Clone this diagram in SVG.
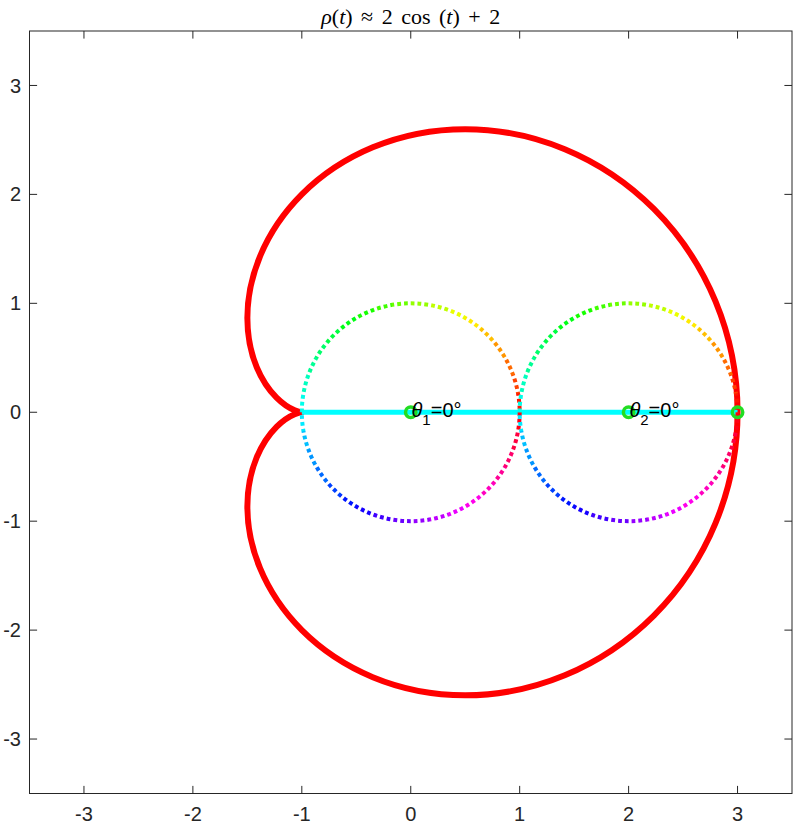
<svg xmlns="http://www.w3.org/2000/svg" xmlns:xlink="http://www.w3.org/1999/xlink" width="796" height="824" viewBox="0 0 796 824">
<style>
.tick{stroke:#262626;stroke-width:1;fill:none}
.tl{font-family:"Liberation Sans",Arial,sans-serif;font-size:20px;fill:#262626}
.tx{text-anchor:middle}
.ty{text-anchor:end}
.lbl{font-family:"Liberation Sans",Arial,sans-serif;font-size:20px;fill:#000}
.title{font-family:"Liberation Serif","Times New Roman",serif;font-size:22px;fill:#000;text-anchor:middle;word-spacing:3px}
.mk{fill:none;stroke:#22dd22;stroke-width:3.5}
</style>
<defs>
<circle id="ring" cx="410.75" cy="412.25" r="108.93" pathLength="360" fill="none" stroke-width="8" stroke-dasharray="10.6 349.4"/>
<mask id="dots" maskUnits="userSpaceOnUse" x="0" y="0" width="796" height="824">
<circle cx="410.75" cy="412.25" r="108.93" pathLength="360" fill="none" stroke="#fff" stroke-width="4" stroke-dasharray="2 1.6"/>
</mask>
<g id="rainbow">
<use xlink:href="#ring" stroke="hsl(355,100%,50%)" stroke-dashoffset="0"/>
<use xlink:href="#ring" stroke="hsl(345,100%,50%)" stroke-dashoffset="-10"/>
<use xlink:href="#ring" stroke="hsl(335,100%,50%)" stroke-dashoffset="-20"/>
<use xlink:href="#ring" stroke="hsl(325,100%,50%)" stroke-dashoffset="-30"/>
<use xlink:href="#ring" stroke="hsl(315,100%,50%)" stroke-dashoffset="-40"/>
<use xlink:href="#ring" stroke="hsl(305,100%,50%)" stroke-dashoffset="-50"/>
<use xlink:href="#ring" stroke="hsl(295,100%,50%)" stroke-dashoffset="-60"/>
<use xlink:href="#ring" stroke="hsl(285,100%,50%)" stroke-dashoffset="-70"/>
<use xlink:href="#ring" stroke="hsl(275,100%,50%)" stroke-dashoffset="-80"/>
<use xlink:href="#ring" stroke="hsl(265,100%,50%)" stroke-dashoffset="-90"/>
<use xlink:href="#ring" stroke="hsl(255,100%,50%)" stroke-dashoffset="-100"/>
<use xlink:href="#ring" stroke="hsl(245,100%,50%)" stroke-dashoffset="-110"/>
<use xlink:href="#ring" stroke="hsl(235,100%,50%)" stroke-dashoffset="-120"/>
<use xlink:href="#ring" stroke="hsl(225,100%,50%)" stroke-dashoffset="-130"/>
<use xlink:href="#ring" stroke="hsl(215,100%,50%)" stroke-dashoffset="-140"/>
<use xlink:href="#ring" stroke="hsl(205,100%,50%)" stroke-dashoffset="-150"/>
<use xlink:href="#ring" stroke="hsl(195,100%,50%)" stroke-dashoffset="-160"/>
<use xlink:href="#ring" stroke="hsl(185,100%,50%)" stroke-dashoffset="-170"/>
<use xlink:href="#ring" stroke="hsl(175,100%,50%)" stroke-dashoffset="-180"/>
<use xlink:href="#ring" stroke="hsl(165,100%,50%)" stroke-dashoffset="-190"/>
<use xlink:href="#ring" stroke="hsl(155,100%,50%)" stroke-dashoffset="-200"/>
<use xlink:href="#ring" stroke="hsl(145,100%,50%)" stroke-dashoffset="-210"/>
<use xlink:href="#ring" stroke="hsl(135,100%,50%)" stroke-dashoffset="-220"/>
<use xlink:href="#ring" stroke="hsl(125,100%,50%)" stroke-dashoffset="-230"/>
<use xlink:href="#ring" stroke="hsl(115,100%,50%)" stroke-dashoffset="-240"/>
<use xlink:href="#ring" stroke="hsl(105,100%,50%)" stroke-dashoffset="-250"/>
<use xlink:href="#ring" stroke="hsl(95,100%,50%)" stroke-dashoffset="-260"/>
<use xlink:href="#ring" stroke="hsl(85,100%,50%)" stroke-dashoffset="-270"/>
<use xlink:href="#ring" stroke="hsl(75,100%,50%)" stroke-dashoffset="-280"/>
<use xlink:href="#ring" stroke="hsl(65,100%,50%)" stroke-dashoffset="-290"/>
<use xlink:href="#ring" stroke="hsl(55,100%,50%)" stroke-dashoffset="-300"/>
<use xlink:href="#ring" stroke="hsl(45,100%,50%)" stroke-dashoffset="-310"/>
<use xlink:href="#ring" stroke="hsl(35,100%,50%)" stroke-dashoffset="-320"/>
<use xlink:href="#ring" stroke="hsl(25,100%,50%)" stroke-dashoffset="-330"/>
<use xlink:href="#ring" stroke="hsl(15,100%,50%)" stroke-dashoffset="-340"/>
<use xlink:href="#ring" stroke="hsl(5,100%,50%)" stroke-dashoffset="-350"/>
</g>
</defs>
<rect width="796" height="824" fill="#fff"/>
<g id="axes">
<rect x="29.5" y="31" width="762.5" height="762.5" fill="#fff" stroke="#262626" stroke-width="1"/>
<path class="tick" d="M83.96 793.5v-7.6M192.89 793.5v-7.6M301.82 793.5v-7.6M410.75 793.5v-7.6M519.68 793.5v-7.6M628.61 793.5v-7.6M737.54 793.5v-7.6M83.96 31v7.6M192.89 31v7.6M301.82 31v7.6M410.75 31v7.6M519.68 31v7.6M628.61 31v7.6M737.54 31v7.6M29.5 85.46h7.6M29.5 194.39h7.6M29.5 303.32h7.6M29.5 412.25h7.6M29.5 521.18h7.6M29.5 630.11h7.6M29.5 739.04h7.6M792 85.46h-7.6M792 194.39h-7.6M792 303.32h-7.6M792 412.25h-7.6M792 521.18h-7.6M792 630.11h-7.6M792 739.04h-7.6"/>
<g class="tl tx">
<text x="83.96" y="820.5">-3</text>
<text x="192.89" y="820.5">-2</text>
<text x="301.82" y="820.5">-1</text>
<text x="410.75" y="820.5">0</text>
<text x="519.68" y="820.5">1</text>
<text x="628.61" y="820.5">2</text>
<text x="737.54" y="820.5">3</text>
</g>
<g class="tl ty">
<text x="21" y="92.5">3</text>
<text x="21" y="201.4">2</text>
<text x="21" y="310.3">1</text>
<text x="21" y="419.3">0</text>
<text x="21" y="528.2">-1</text>
<text x="21" y="637.1">-2</text>
<text x="21" y="746">-3</text>
</g>
<text class="title" x="410.75" y="23.5"><tspan font-style="italic">ρ</tspan>(<tspan font-style="italic">t</tspan>) ≈ 2 cos (<tspan font-style="italic">t</tspan>) + 2</text>
</g>
<g id="cardioid">
<path fill="none" stroke="#ff0000" stroke-width="6" stroke-linejoin="round" d="M737.54 412.25C737.54 374.23 729.950 336.23 715.52 301.40C701.09 266.57 679.86 234.95 653.89 208.98C627.92 183.01 597.26 162.71 564.80 149.27C532.34 135.83 498.15 129.24 465.22 129.24C432.29 129.24 400.67 135.81 372.80 147.35C344.93 158.89 320.83 175.38 301.82 194.39C282.81 213.40 268.89 234.89 260.03 256.28C251.17 277.67 247.36 298.90 247.36 317.91C247.36 336.92 251.13 353.69 256.70 367.13C262.27 380.57 269.58 390.70 276.54 397.66C283.50 404.62 290.06 408.43 294.65 410.33C299.24 412.23 301.82 412.25 301.82 412.25C301.82 412.25 299.24 412.27 294.65 414.17C290.06 416.07 283.50 419.88 276.54 426.84C269.58 433.80 262.27 443.93 256.70 457.37C251.13 470.81 247.36 487.58 247.36 506.59C247.36 525.60 251.17 546.83 260.03 568.22C268.89 589.61 282.81 611.10 301.82 630.11C320.83 649.12 344.93 665.61 372.80 677.15C400.67 688.69 432.29 695.26 465.22 695.26C498.15 695.26 532.34 688.67 564.80 675.23C597.26 661.79 627.92 641.49 653.89 615.52C679.86 589.55 701.09 557.93 715.52 523.10C729.95 488.27 737.54 450.27 737.54 412.25Z"/>
</g>
<g id="connectors">
<line x1="301.82" y1="412.25" x2="737.54" y2="412.25" stroke="#00ffff" stroke-width="5"/>
</g>
<g id="circle1" mask="url(#dots)">
<use xlink:href="#rainbow"/>
</g>
<g id="circle2" transform="translate(217.86 0)">
<g mask="url(#dots)"><use xlink:href="#rainbow"/></g>
</g>
<g id="joint1">
<circle class="mk" cx="410.75" cy="412.25" r="5.2"/>
<text class="lbl" x="411.5" y="417"><tspan font-style="italic">θ</tspan><tspan font-size="15" dy="8">1</tspan><tspan dy="-8">=0°</tspan></text>
</g>
<g id="joint2">
<circle class="mk" cx="628.61" cy="412.25" r="5.2"/>
<text class="lbl" x="629.4" y="417"><tspan font-style="italic">θ</tspan><tspan font-size="15" dy="8">2</tspan><tspan dy="-8">=0°</tspan></text>
</g>
<g id="tip">
<circle class="mk" cx="737.54" cy="412.25" r="5.2"/>
</g>
</svg>
